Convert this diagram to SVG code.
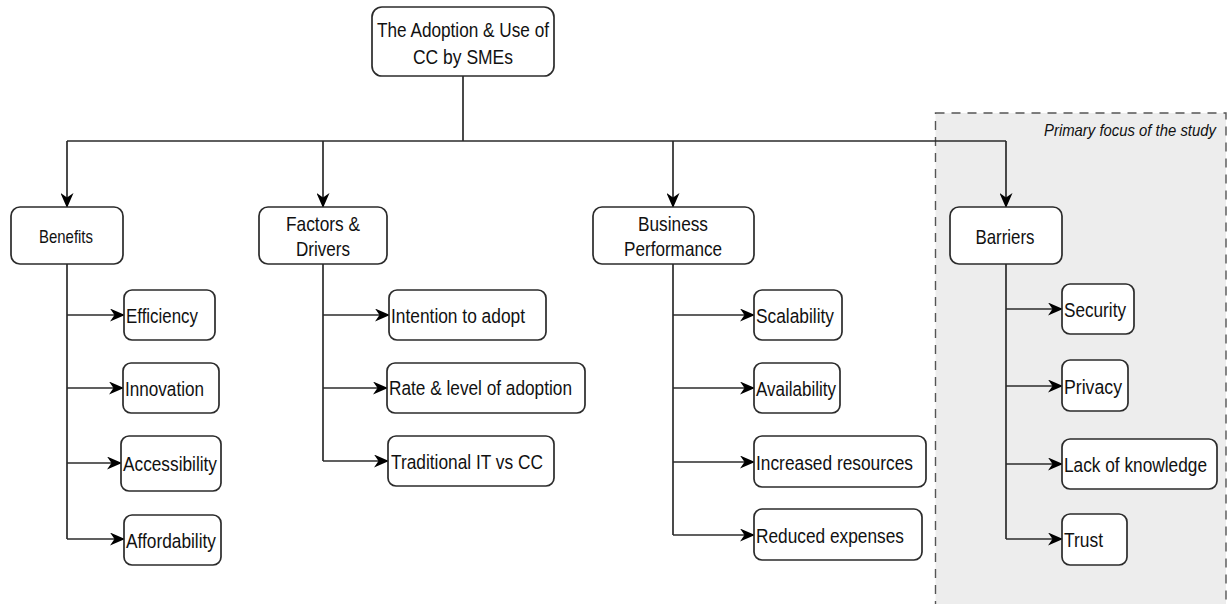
<svg xmlns="http://www.w3.org/2000/svg" width="1229" height="604" viewBox="0 0 1229 604">
  <style>
    .box { fill: #ffffff; stroke: #2b2b2b; stroke-width: 1.7; }
    .wire { fill: none; stroke: #2b2b2b; stroke-width: 1.7; marker-end: url(#arrow); }
    .bus { fill: none; stroke: #2b2b2b; stroke-width: 1.7; }
    text { font-family: "Liberation Sans", Arial, Helvetica, sans-serif; fill: #111111; }
    .t21 { font-size: 21px; }
    .t20 { font-size: 20.5px; }
    .t19 { font-size: 19px; }
    .mid { text-anchor: middle; }
    .note { font-size: 16.5px; font-style: italic; }
  </style>
  <defs>
    <marker id="arrow" viewBox="0 0 15 13" markerWidth="15" markerHeight="13" refX="14" refY="6.5" orient="auto" markerUnits="userSpaceOnUse">
      <path d="M0,0 L15,6.5 L0,13 L4.5,6.5 Z" fill="#000000"/>
    </marker>
  </defs>

  <!-- highlighted study area -->
  <g id="focus-area">
    <rect x="935.5" y="113" width="290.5" height="510" fill="#ededed" stroke="#555555" stroke-width="1.4" stroke-dasharray="9,7"/>
    <text class="note" x="1044" y="136" textLength="172" lengthAdjust="spacingAndGlyphs">Primary focus of the study</text>
  </g>

  <!-- connectors -->
  <g id="connectors">
    <path class="bus" d="M463,76 V141 M67,141 H1006"/>
    <path class="wire" d="M67,141 V207"/>
    <path class="wire" d="M323,141 V207"/>
    <path class="wire" d="M673,141 V207"/>
    <path class="wire" d="M1006,141 V207"/>

    <path class="bus" d="M67,264 V539"/>
    <path class="wire" d="M67,315 H124"/>
    <path class="wire" d="M67,388 H123"/>
    <path class="wire" d="M67,463 H121"/>
    <path class="wire" d="M67,539 H124"/>

    <path class="bus" d="M323,264 V461"/>
    <path class="wire" d="M323,315 H389"/>
    <path class="wire" d="M323,388 H387"/>
    <path class="wire" d="M323,461 H388"/>

    <path class="bus" d="M673,264 V535"/>
    <path class="wire" d="M673,315 H754"/>
    <path class="wire" d="M673,388 H754"/>
    <path class="wire" d="M673,462 H754"/>
    <path class="wire" d="M673,535 H754"/>

    <path class="bus" d="M1006,264 V539"/>
    <path class="wire" d="M1006,309 H1062"/>
    <path class="wire" d="M1006,386 H1062"/>
    <path class="wire" d="M1006,464 H1062"/>
    <path class="wire" d="M1006,539 H1062"/>
  </g>

  <!-- root -->
  <g id="root">
    <rect class="box" x="372" y="7" width="182" height="69" rx="10"/>
    <text class="t21 mid" x="463" y="37" textLength="172" lengthAdjust="spacingAndGlyphs">The Adoption &amp; Use of</text>
    <text class="t21 mid" x="463" y="64" textLength="100" lengthAdjust="spacingAndGlyphs">CC by SMEs</text>
  </g>

  <!-- categories -->
  <g id="benefits">
    <rect class="box" x="11" y="207" width="112" height="57" rx="9"/>
    <text class="t19 mid" x="66" y="243" textLength="54" lengthAdjust="spacingAndGlyphs">Benefits</text>
  </g>
  <g id="factors">
    <rect class="box" x="259" y="207" width="128" height="57" rx="9"/>
    <text class="t21 mid" x="323" y="231" textLength="74" lengthAdjust="spacingAndGlyphs">Factors &amp;</text>
    <text class="t21 mid" x="323" y="256" textLength="54" lengthAdjust="spacingAndGlyphs">Drivers</text>
  </g>
  <g id="business">
    <rect class="box" x="593" y="207" width="161" height="57" rx="9"/>
    <text class="t21 mid" x="673" y="231" textLength="70" lengthAdjust="spacingAndGlyphs">Business</text>
    <text class="t21 mid" x="673" y="256" textLength="98" lengthAdjust="spacingAndGlyphs">Performance</text>
  </g>
  <g id="barriers">
    <rect class="box" x="950" y="207" width="112" height="57" rx="9"/>
    <text class="t21 mid" x="1005" y="244" textLength="59" lengthAdjust="spacingAndGlyphs">Barriers</text>
  </g>

  <!-- benefits items -->
  <g id="efficiency">
    <rect class="box" x="124" y="290" width="91" height="50" rx="8"/>
    <text class="t20" x="126" y="323" textLength="72" lengthAdjust="spacingAndGlyphs">Efficiency</text>
  </g>
  <g id="innovation">
    <rect class="box" x="123" y="363" width="96" height="50" rx="8"/>
    <text class="t20" x="125" y="396" textLength="79" lengthAdjust="spacingAndGlyphs">Innovation</text>
  </g>
  <g id="accessibility">
    <rect class="box" x="121" y="436" width="100" height="55" rx="8"/>
    <text class="t20" x="123" y="471" textLength="94" lengthAdjust="spacingAndGlyphs">Accessibility</text>
  </g>
  <g id="affordability">
    <rect class="box" x="124" y="515" width="97" height="50" rx="8"/>
    <text class="t20" x="126" y="548" textLength="90" lengthAdjust="spacingAndGlyphs">Affordability</text>
  </g>

  <!-- factors items -->
  <g id="intention">
    <rect class="box" x="389" y="290" width="157" height="50" rx="8"/>
    <text class="t20" x="391" y="323" textLength="134" lengthAdjust="spacingAndGlyphs">Intention to adopt</text>
  </g>
  <g id="rate">
    <rect class="box" x="387" y="363" width="198" height="50" rx="8"/>
    <text class="t20" x="389" y="395" textLength="183" lengthAdjust="spacingAndGlyphs">Rate &amp; level of adoption</text>
  </g>
  <g id="traditional">
    <rect class="box" x="388" y="436" width="166" height="50" rx="8"/>
    <text class="t20" x="391" y="469" textLength="152" lengthAdjust="spacingAndGlyphs">Traditional IT vs CC</text>
  </g>

  <!-- performance items -->
  <g id="scalability">
    <rect class="box" x="754" y="290" width="88" height="50" rx="8"/>
    <text class="t20" x="756" y="323" textLength="78" lengthAdjust="spacingAndGlyphs">Scalability</text>
  </g>
  <g id="availability">
    <rect class="box" x="754" y="363" width="86" height="50" rx="8"/>
    <text class="t20" x="756" y="396" textLength="80" lengthAdjust="spacingAndGlyphs">Availability</text>
  </g>
  <g id="increased">
    <rect class="box" x="754" y="436" width="172" height="51" rx="8"/>
    <text class="t20" x="756" y="470" textLength="157" lengthAdjust="spacingAndGlyphs">Increased resources</text>
  </g>
  <g id="reduced">
    <rect class="box" x="754" y="509" width="168" height="51" rx="8"/>
    <text class="t20" x="756" y="543" textLength="148" lengthAdjust="spacingAndGlyphs">Reduced expenses</text>
  </g>

  <!-- barrier items -->
  <g id="security">
    <rect class="box" x="1062" y="284" width="72" height="50" rx="8"/>
    <text class="t20" x="1064" y="317" textLength="62" lengthAdjust="spacingAndGlyphs">Security</text>
  </g>
  <g id="privacy">
    <rect class="box" x="1062" y="360" width="66" height="51" rx="8"/>
    <text class="t20" x="1064" y="394" textLength="58" lengthAdjust="spacingAndGlyphs">Privacy</text>
  </g>
  <g id="lack">
    <rect class="box" x="1062" y="439" width="155" height="50" rx="8"/>
    <text class="t20" x="1064" y="472" textLength="143" lengthAdjust="spacingAndGlyphs">Lack of knowledge</text>
  </g>
  <g id="trust">
    <rect class="box" x="1062" y="514" width="65" height="51" rx="8"/>
    <text class="t20" x="1064" y="547" textLength="39" lengthAdjust="spacingAndGlyphs">Trust</text>
  </g>
</svg>
